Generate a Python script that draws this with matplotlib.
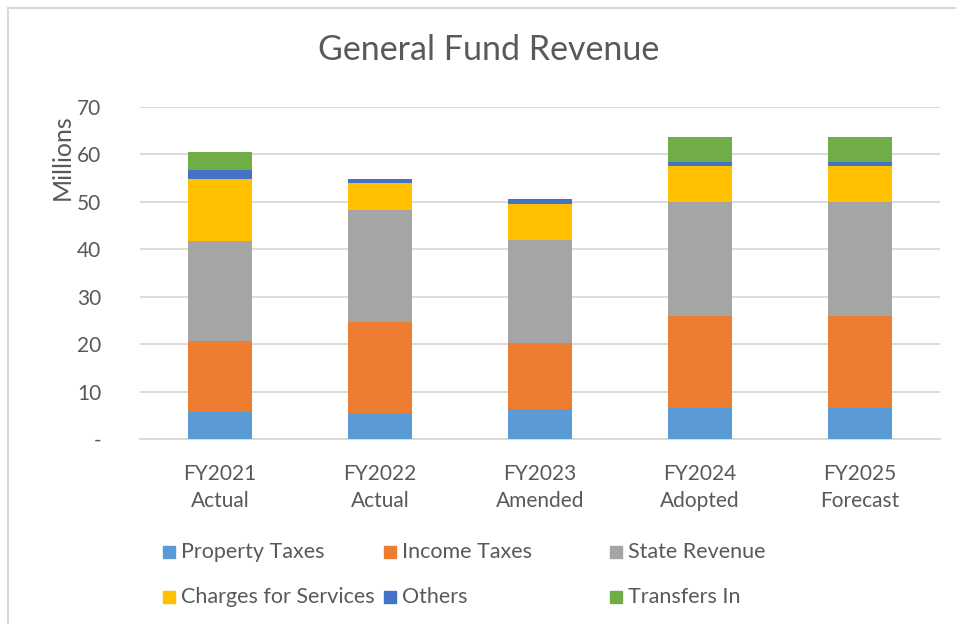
import matplotlib
matplotlib.use("Agg")
import matplotlib.pyplot as plt
import numpy as np
from matplotlib.patches import Rectangle
from matplotlib.lines import Line2D

categories = ["FY2021\nActual", "FY2022\nActual", "FY2023\nAmended", "FY2024\nAdopted", "FY2025\nForecast"]
series_names = ["Property Taxes", "Income Taxes", "State Revenue",
                "Charges for Services", "Others", "Transfers In"]
property_taxes = [5.6, 5.5, 6.25, 6.45, 6.45]
income_taxes = [15.0, 19.1, 14.0, 19.45, 19.45]
state_revenue = [21.2, 23.7, 21.8, 24.0, 24.0]
charges_for_services = [13.0, 5.6, 7.4, 7.7, 7.7]
others = [1.9, 0.95, 1.2, 0.75, 0.75]
transfers_in = [3.9, 0.0, 0.0, 5.25, 5.25]
colors = ["#5B9BD5", "#ED7D31", "#A5A5A5", "#FFC000", "#4472C4", "#70AD47"]
yticks = [0, 10, 20, 30, 40, 50, 60, 70]
ytick_labels = ["-", "10", "20", "30", "40", "50", "60", "70"]

plt.rcParams['font.family'] = ['Lato', 'DejaVu Sans']
text_color = "#595959"

fig = plt.figure(figsize=(9.56, 6.24), dpi=100)
W, H = 956, 624
ax = fig.add_axes([140 / W, 1 - 439 / H, 800 / W, (439 - 107) / H])

x = np.arange(len(categories))
data = [property_taxes, income_taxes, state_revenue, charges_for_services, others, transfers_in]
bottom = np.zeros(len(categories))
for name, vals, c in zip(series_names, data, colors):
    v = np.array(vals)
    ax.bar(x, v, 0.4, bottom=bottom, color=c, label=name, zorder=3)
    bottom += v

ax.set_xlim(-0.5, len(categories) - 0.5)
ax.set_ylim(0, 70)
ax.set_yticks(yticks)
ax.set_yticklabels(ytick_labels)
ax.set_xticks(x)
ax.set_xticklabels(categories, linespacing=1.45)
ax.grid(axis="y", color="#D9D9D9", linewidth=1.3, zorder=0)
for s in ["top", "right", "left"]:
    ax.spines[s].set_visible(False)
ax.spines["bottom"].set_color("#D9D9D9")
ax.spines["bottom"].set_linewidth(1.3)
ax.tick_params(axis="both", length=0, labelsize=15, colors=text_color)
ax.tick_params(axis="y", pad=28)
ax.tick_params(axis="x", pad=18)

fig.text(62 / W, 1 - 157 / H, "Millions", rotation=90, ha="center", va="center",
         fontsize=18, color=text_color)

fig.text(489 / W, 1 - 50 / H, "General Fund Revenue", ha="center", va="center",
         fontsize=24.5, color=text_color)

# legend (manual layout, row-wise like the original)
col_x = [163, 384, 610]
row_y = [552, 597]
for i, (name, c) in enumerate(zip(series_names, colors)):
    r, k = divmod(i, 3)
    px, py = col_x[k], row_y[r]
    fig.add_artist(Rectangle((px / W, 1 - (py + 6) / H), 12 / W, 12 / H, color=c,
                             transform=fig.transFigure))
    fig.text((px + 18) / W, 1 - py / H, name, ha="left", va="center",
             fontsize=15.5, color=text_color)

# chart border (top and left visible)
fig.add_artist(Line2D([8 / W, 1.01], [1 - 8 / H, 1 - 8 / H], color="#D9D9D9", linewidth=1.5,
                      transform=fig.transFigure))
fig.add_artist(Line2D([8 / W, 8 / W], [1 - 8 / H, -0.01], color="#D9D9D9", linewidth=1.5,
                      transform=fig.transFigure))

fig.savefig("out.png", dpi=100)
